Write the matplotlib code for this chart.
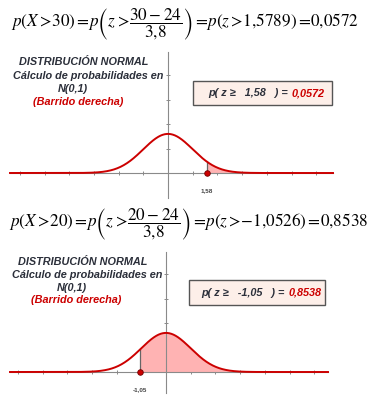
import matplotlib.pyplot as plt
import numpy as np
from matplotlib.patches import Rectangle

plt.rcParams["mathtext.fontset"] = "stix"
plt.rcParams["font.family"] = ["Liberation Sans", "DejaVu Sans"]

W, H = 387, 408

# data: X ~ N(24, 3.8)
mean = 24
sd = 3.8
x_values = [30, 20]
z_exact = ["1{,}5789", "{-}1{,}0526"]
z_round = [1.58, -1.05]
z_labels = ["1,58", "-1,05"]
probs = ["0,0572", "0,8538"]
y_ticks = [0.25, 0.5, 0.75, 1.0]
x_ticks = [-6, -5, -4, -3, -2, -1, 1, 2, 3, 4, 5, 6]

DARK = "#2b2f3a"
RED = "#cc0000"
GRAY = "#8a8a8a"


def fx(px):
    return px / W


def fy(py):
    return 1 - py / H


def pdf(z):
    return np.exp(-z ** 2 / 2) / np.sqrt(2 * np.pi)


fig = plt.figure(figsize=(W / 100, H / 100), dpi=100)

# layout of each panel in pixels
panels = [
    dict(eq_x=185, eq_y=24, top=52, axis=173, bottom=198, zero=168, cmin=10, cmax=333,
         title=[(84, 62), (88, 76), (73, 89), (78, 102)],
         box=(193, 81, 332, 105), txt_end=288, red_end=325),
    dict(eq_x=189, eq_y=224, top=252, axis=372, bottom=393, zero=166, cmin=10, cmax=328,
         title=[(83, 262), (87, 275), (72, 288), (76, 300)],
         box=(189, 280, 325, 305), txt_end=285, red_end=322),
]

sx = 24.7  # px per z unit
sy = 98.0  # px per density unit

R = r">\!"
E = r"=\!"

for i, p in enumerate(panels):
    # equation
    eq = (r"$p(X%s%d)%sp\left(z%s\dfrac{%d-%d}{3{,}8}\right)%sp(z%s%s)%s%s$"
          % (R, x_values[i], E, R, x_values[i], mean, E, R, z_exact[i], E,
             probs[i].replace(",", "{,}")))
    fig.text(fx(p["eq_x"]), fy(p["eq_y"]), eq, ha="center", va="center", fontsize=12.3)

    # axes
    ax = fig.add_axes([0, fy(p["bottom"]), 1, (p["bottom"] - p["top"]) / H])
    ax.set_xlim(-p["zero"] / sx, (W - p["zero"]) / sx)
    ax.set_ylim(-(p["bottom"] - p["axis"]) / sy, (p["axis"] - p["top"]) / sy)
    ax.patch.set_alpha(0)
    for s in ["top", "right"]:
        ax.spines[s].set_visible(False)
    zmin = (p["cmin"] - p["zero"]) / sx
    zmax = (p["cmax"] - p["zero"]) / sx
    ax.spines["left"].set_position(("data", 0))
    ax.spines["bottom"].set_position(("data", 0))
    ax.spines["bottom"].set_bounds(zmin, zmax)
    for s in ["left", "bottom"]:
        ax.spines[s].set_color(GRAY)
        ax.spines[s].set_linewidth(0.8)
    ax.set_xticks(x_ticks)
    ax.set_yticks(y_ticks)
    ax.set_xticklabels([])
    ax.set_yticklabels([])
    ax.tick_params(direction="inout", length=3, width=0.7, color=GRAY)

    z = np.linspace(zmin, zmax, 600)
    z0 = z_round[i]
    zf = np.linspace(z0, zmax, 400)
    ax.fill_between(zf, 0, pdf(zf), color="#ffb3b3", lw=0, zorder=2)
    ax.plot(z, pdf(z), color=RED, lw=1.4, zorder=4)
    ax.plot([z0, z0], [0, pdf(z0)], color="#666666", lw=0.9, zorder=3)
    ax.plot([z0], [0], "o", ms=4, mfc=RED, mec="#700000", mew=0.6, zorder=5, clip_on=False)
    ax.text(z0, -18 / sy, z_labels[i], ha="center", va="center", fontsize=4.5,
            fontweight="bold", color="#444444")

    # heading text
    lines = ["DISTRIBUCIÓN NORMAL", "Cálculo de probabilidades en", "N(0,1)", "(Barrido derecha)"]
    colors = [DARK, DARK, DARK, RED]
    for (cx, cy), t, c in zip(p["title"], lines, colors):
        fig.text(fx(cx), fy(cy), t, ha="center", va="center", fontsize=7.8,
                 fontweight="bold", fontstyle="italic", color=c)

    # result box
    x0, y0, x1, y1 = p["box"]
    fig.patches.append(Rectangle((fx(x0), fy(y1)), fx(x1) - fx(x0), fy(y0) - fy(y1),
                                 transform=fig.transFigure, facecolor="#fdefe9",
                                 edgecolor="#555555", lw=1.0))
    yc = fy((y0 + y1) / 2)
    fig.text(fx(p["txt_end"]), yc, "p( z \u2265   %s   ) =" % z_labels[i], ha="right",
             va="center", fontsize=7.8, fontstyle="italic", fontweight="bold", color=DARK)
    fig.text(fx(p["red_end"]), yc, probs[i], ha="right", va="center", fontsize=7.8,
             fontstyle="italic", fontweight="bold", color=RED)

fig.savefig("out.png", dpi=100)
